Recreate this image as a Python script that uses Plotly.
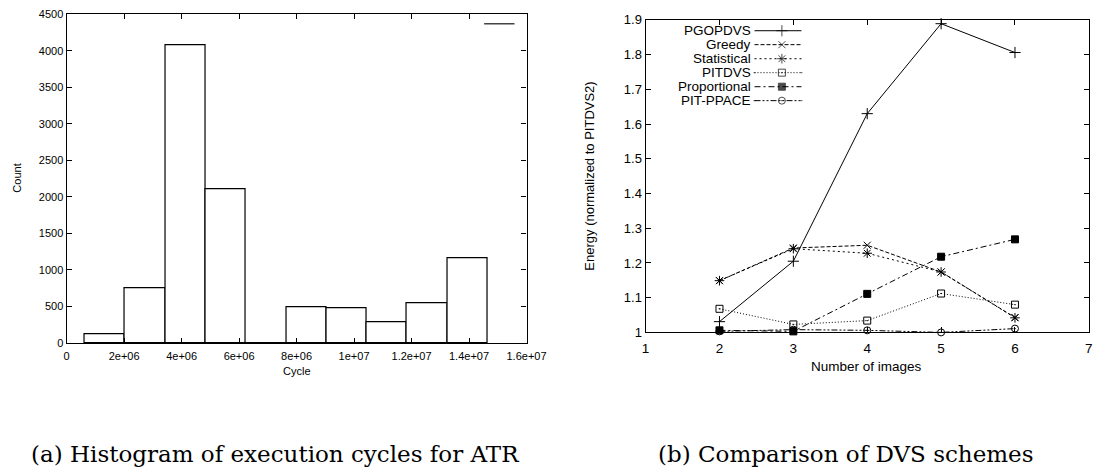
import plotly.graph_objects as go

W, H = 1116, 476

# ---- (a) histogram of execution cycles ----
cycle_bin_centers = [1.333e6, 2.734e6, 4.135e6, 5.536e6, 6.937e6,
                     8.338e6, 9.739e6, 11.14e6, 12.54e6, 13.94e6]
cycle_counts = [115, 751, 4076, 2100, 3, 486, 482, 278, 548, 1158]
cycle_tick_vals = [0, 2e6, 4e6, 6e6, 8e6, 1e7, 1.2e7, 1.4e7, 1.6e7]
cycle_tick_text = ["0", "2e+06", "4e+06", "6e+06", "8e+06",
                   "1e+07", "1.2e+07", "1.4e+07", "1.6e+07"]
count_tick_vals = [0, 500, 1000, 1500, 2000, 2500, 3000, 3500, 4000, 4500]

# ---- (b) DVS scheme comparison ----
num_images = [2, 3, 4, 5, 6]
pgopdvs = [1.031, 1.205, 1.630, 1.889, 1.806]
greedy = [1.149, 1.243, 1.251, 1.174, 1.043]
statistical = [1.149, 1.241, 1.228, 1.174, 1.042]
pitdvs = [1.068, 1.023, 1.034, 1.112, 1.080]
proportional = [1.006, 1.003, 1.111, 1.218, 1.268]
pit_ppace = [1.003, 1.008, 1.006, 1.000, 1.011]
energy_tick_vals = [1.0, 1.1, 1.2, 1.3, 1.4, 1.5, 1.6, 1.7, 1.8, 1.9]
energy_tick_text = ["1", "1.1", "1.2", "1.3", "1.4", "1.5", "1.6", "1.7", "1.8", "1.9"]
image_tick_vals = [1, 2, 3, 4, 5, 6, 7]

BIN_WIDTH = 1.401e6
SANS = "Liberation Sans, Arial, Helvetica, sans-serif"
SERIF = "DejaVu Serif, serif"
CLEAR = "rgba(0,0,0,0)"


def fx(p):
    return p / W


def fy(p):
    return 1 - p / H


fig = go.Figure()

fig.add_trace(go.Bar(
    x=cycle_bin_centers, y=cycle_counts, width=BIN_WIDTH,
    marker=dict(color="white", line=dict(color="black", width=1.2)),
    xaxis="x", yaxis="y", showlegend=False,
))

series = [
    ("PGOPDVS", pgopdvs, "solid", "cross-thin", 8),
    ("Greedy", greedy, "4px,2px", "x-thin", 7),
    ("Statistical", statistical, "2px,3px", "asterisk", 8),
    ("PITDVS", pitdvs, "1px,2px", "square-open-dot", 7),
    ("Proportional", proportional, "6px,3px,2px,3px", "square", 7),
    ("PIT-PPACE", pit_ppace, "6px,2px,2px,2px,2px,2px", "circle-open-dot", 7),
]

for name, vals, dash, sym, size in series:
    fig.add_trace(go.Scatter(
        x=num_images, y=vals, name=name, mode="lines+markers",
        line=dict(color="black", width=1, dash=dash),
        marker=dict(symbol=sym, size=size, color="black",
                    line=dict(color="black", width=1)),
        xaxis="x2", yaxis="y2", showlegend=False, cliponaxis=False,
    ))

# key for (b): label on the left, line sample with symbol on the right
key_rows = [24.5, 38.9, 53.4, 67.8, 82.3, 96.7]
annotations = []
for (name, vals, dash, sym, size), row in zip(series, key_rows):
    fig.add_trace(go.Scatter(
        x=[767, 795, 815], y=[row, row, row], mode="lines+markers",
        line=dict(color="black", width=1, dash=dash),
        marker=dict(symbol=sym, size=[0, size, 0], color="black",
                    line=dict(color="black", width=1)),
        xaxis="x3", yaxis="y3", showlegend=False, hoverinfo="skip",
    ))
    annotations.append(dict(
        text=name, xref="paper", yref="paper", x=fx(765), y=fy(row),
        xanchor="right", yanchor="middle", showarrow=False,
        font=dict(family=SANS, size=13.5, color="black"),
    ))

# axis titles and captions
annotations += [
    dict(text="Count", xref="paper", yref="paper", x=fx(13.5), y=fy(177),
         textangle=-90, showarrow=False, xanchor="center", yanchor="middle",
         font=dict(family=SANS, size=11, color="black")),
    dict(text="Cycle", xref="paper", yref="paper", x=fx(299), y=fy(376),
         showarrow=False, xanchor="center", yanchor="middle",
         font=dict(family=SANS, size=11, color="black")),
    dict(text="Energy (normalized to PITDVS2)", xref="paper", yref="paper",
         x=fx(598), y=fy(175), textangle=-90, showarrow=False,
         xanchor="center", yanchor="middle",
         font=dict(family=SANS, size=13, color="black")),
    dict(text="Number of images", xref="paper", yref="paper", x=fx(881),
         y=fy(371), showarrow=False, xanchor="center", yanchor="middle",
         font=dict(family=SANS, size=13.5, color="black")),
    dict(text="(a) Histogram of execution cycles for ATR", xref="paper",
         yref="paper", x=fx(277), y=fy(462), showarrow=False,
         xanchor="center", yanchor="middle",
         font=dict(family=SERIF, size=23, color="black")),
    dict(text="(b) Comparison of DVS schemes", xref="paper",
         yref="paper", x=fx(861), y=fy(462), showarrow=False,
         xanchor="center", yanchor="middle",
         font=dict(family=SERIF, size=23, color="black")),
]

axis_common = dict(
    showline=True, linecolor="black", linewidth=1.2, mirror="ticks",
    ticks="inside", ticklen=5, tickwidth=1, tickcolor="black",
    showgrid=False, zeroline=False, fixedrange=True,
)

fig.update_layout(
    width=W, height=H, autosize=False,
    margin=dict(l=0, r=0, t=0, b=0),
    paper_bgcolor="white", plot_bgcolor=CLEAR,
    bargap=0,
    annotations=annotations,
    shapes=[dict(type="line", xref="paper", yref="paper",
                 x0=fx(490.7), x1=fx(521.7), y0=fy(17.3), y1=fy(17.3),
                 line=dict(color="#444444", width=1.5))],
    xaxis=dict(domain=[fx(64), fx(534)], anchor="y", range=[0, 1.6e7],
               tickvals=cycle_tick_vals, ticktext=cycle_tick_text,
               ticklabelstandoff=3,
               tickfont=dict(family=SANS, size=11, color="black"),
               **axis_common),
    yaxis=dict(domain=[fy(347), fy(7.5)], anchor="x", range=[0, 4500],
               tickvals=count_tick_vals,
               tickfont=dict(family=SANS, size=11, color="black"),
               **axis_common),
    xaxis2=dict(domain=[fx(655.7), fx(1108.7)], anchor="y2", range=[1, 7],
                tickvals=image_tick_vals, ticklabelstandoff=3,
                tickfont=dict(family=SANS, size=13.5, color="black"),
                **axis_common),
    yaxis2=dict(domain=[fy(336), fy(13.3)], anchor="x2", range=[1, 1.9],
                tickvals=energy_tick_vals, ticktext=energy_tick_text,
                tickfont=dict(family=SANS, size=13, color="black"),
                **axis_common),
    xaxis3=dict(domain=[0, 1], anchor="y3", range=[0, W], visible=False,
                fixedrange=True),
    yaxis3=dict(domain=[0, 1], anchor="x3", range=[H, 0], visible=False,
                fixedrange=True),
)

fig.write_html("out.html")
